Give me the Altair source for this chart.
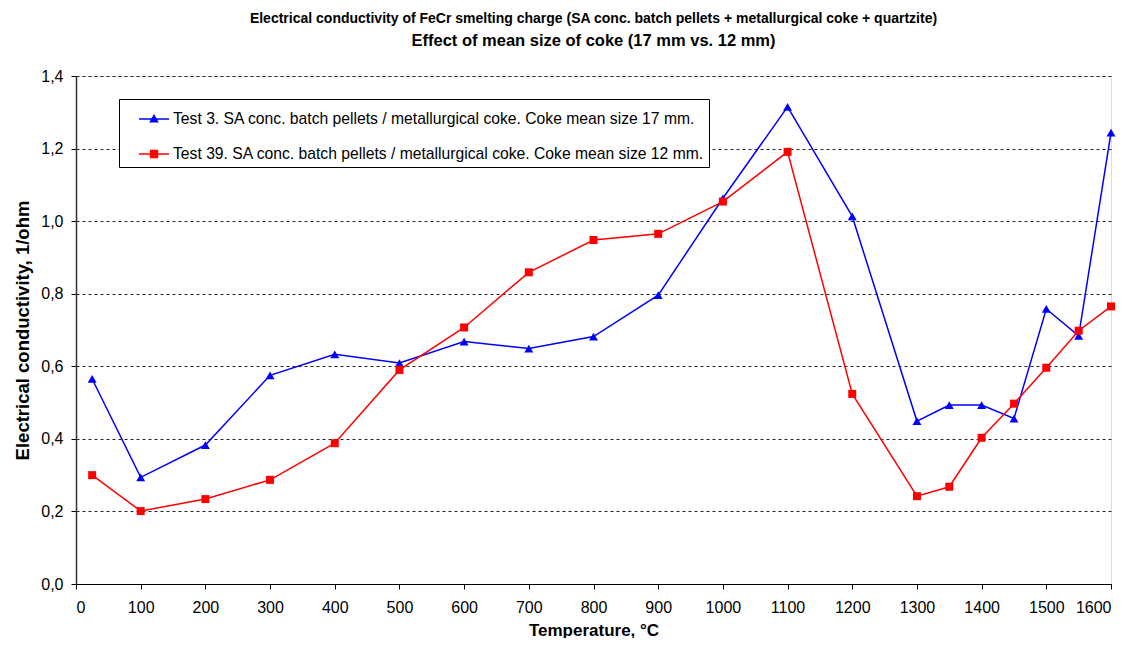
import altair as alt
import pandas as pd

temps = [25, 100, 200, 300, 400, 500, 600, 700, 800, 900, 1000, 1100, 1200, 1300, 1350, 1400, 1450, 1500, 1550, 1600]
test3 = [0.565, 0.294, 0.383, 0.575, 0.633, 0.609, 0.668, 0.649, 0.682, 0.796, 1.063, 1.315, 1.013, 0.449, 0.493, 0.493, 0.456, 0.758, 0.684, 1.244]
test39 = [0.300, 0.201, 0.234, 0.287, 0.388, 0.590, 0.707, 0.859, 0.948, 0.965, 1.054, 1.191, 0.524, 0.242, 0.268, 0.403, 0.497, 0.596, 0.698, 0.765]
series_names = [
    "Test 3. SA conc. batch pellets / metallurgical coke. Coke mean size 17 mm.",
    "Test 39. SA conc. batch pellets / metallurgical coke. Coke mean size 12 mm.",
]
colors = ["#0000FF", "#FF0000"]
shapes = ["triangle-up", "square"]
marker_sizes = [80, 64]
x_ticks = list(range(0, 1601, 100))
y_ticks = [0, 0.2, 0.4, 0.6, 0.8, 1.0, 1.2, 1.4]

rows = []
for t, v in zip(temps, test3):
    rows.append({"T": t, "v": v, "s": series_names[0]})
for t, v in zip(temps, test39):
    rows.append({"T": t, "v": v, "s": series_names[1]})
df = pd.DataFrame(rows)

FONT = "Liberation Sans"

# legend symbols: thin filled bar (the line) with the marker in the middle
legend_syms = [
    "M-1,-0.05L1,-0.05L1,0.05L-1,0.05Z M0,-0.34L0.32,0.24L-0.32,0.24Z",
    "M-1,-0.05L1,-0.05L1,0.05L-1,0.05Z M-0.28,-0.28L0.28,-0.28L0.28,0.28L-0.28,0.28Z",
]

x = alt.X("T:Q", scale=alt.Scale(domain=[0, 1600], nice=False),
          axis=alt.Axis(values=x_ticks, format="d", title="Temperature, °C",
                        grid=False, labelFontSize=16, titleFontSize=17, titleFontWeight="bold",
                        labelColor="#000", titleColor="#000", domainColor="#000", tickColor="#000",
                        tickSize=5, labelPadding=10, titlePadding=7, labelFont=FONT, titleFont=FONT))
y = alt.Y("v:Q", scale=alt.Scale(domain=[0, 1.4], nice=False),
          axis=alt.Axis(values=y_ticks,
                        labelExpr="replace(format(datum.value, '.1f'), '.', ',')",
                        title="Electrical conductivity, 1/ohm",
                        grid=True, gridDash=[3, 3], gridColor="#222", gridWidth=1,
                        labelFontSize=16, titleFontSize=18.5, titleFontWeight="bold",
                        labelColor="#000", titleColor="#000", domainColor="#333", domainWidth=1.5,
                        tickColor="#000",
                        tickSize=5, labelPadding=8, titlePadding=8, labelFont=FONT, titleFont=FONT))

legend = alt.Legend(
    title=None, orient="none", legendX=43, legendY=23,
    strokeColor="#000", fillColor="#fff", padding=5,
    labelFontSize=15.7, labelFont=FONT, labelColor="#000",
    rowPadding=12, symbolSize=900, symbolStrokeWidth=0, symbolOffset=15,
    symbolOpacity=1, labelOffset=4, labelLimit=800,
)

cscale = alt.Scale(domain=series_names, range=colors)

base = alt.Chart(df)
lines = base.mark_line(strokeWidth=1.5).encode(
    x=x, y=y, color=alt.Color("s:N", scale=cscale, legend=legend), detail="s:N")

point_layers = []
for name, shp, sz in zip(series_names, shapes, marker_sizes):
    point_layers.append(
        base.transform_filter(alt.datum.s == name)
        .mark_point(filled=True, size=sz, opacity=1, shape=shp)
        .encode(x=x, y=y, color=alt.Color("s:N", scale=cscale, legend=legend))
    )

legend_layer = base.mark_point(filled=True, size=0).encode(
    x=x, y=y,
    color=alt.Color("s:N", scale=cscale, legend=legend),
    shape=alt.Shape("s:N", scale=alt.Scale(domain=series_names, range=legend_syms), legend=legend),
)

chart = alt.layer(legend_layer, lines, *point_layers).properties(
    width=1035, height=508,
    padding={"left": 5, "top": 3, "right": 5, "bottom": 0},
    title=alt.TitleParams(
        text="Electrical conductivity of FeCr smelting charge (SA conc. batch pellets + metallurgical coke + quartzite)",
        subtitle="Effect of mean size of coke (17 mm vs. 12 mm)",
        fontSize=14, fontWeight="bold", font=FONT, color="#000",
        subtitleFontSize=16.5, subtitleFontWeight="bold", subtitleFont=FONT, subtitleColor="#000",
        subtitlePadding=7, offset=19, anchor="middle"),
).configure_view(stroke="#444", strokeWidth=1).configure(background="#fff")

chart.save("out.html", embed_options={"renderer": "svg", "actions": False})
